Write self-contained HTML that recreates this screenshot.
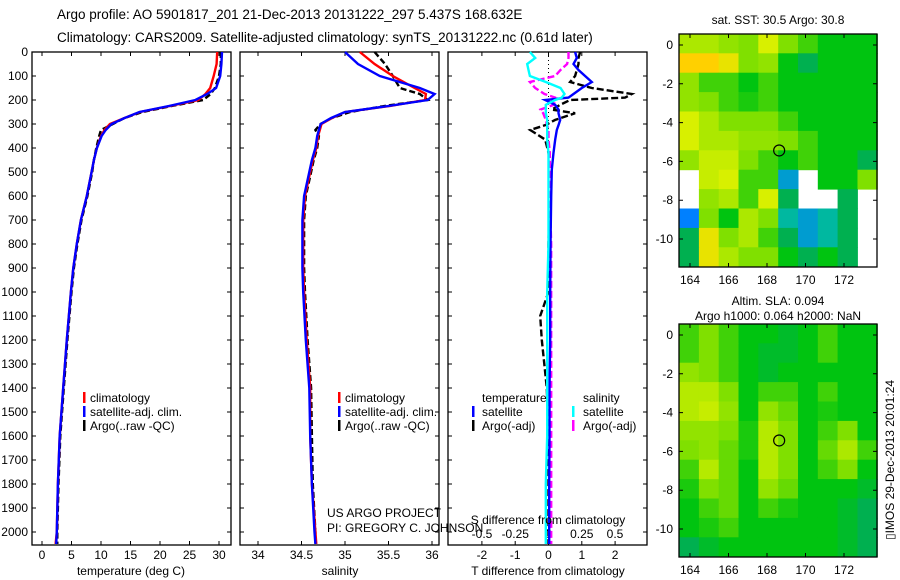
<!DOCTYPE html>
<html><head><meta charset="utf-8"><style>
body{margin:0;background:#fff;}
svg{display:block;font-family:"Liberation Sans",Arial,sans-serif;}
text{fill:#000;}
</style></head><body>
<svg id="c" width="900" height="580" viewBox="0 0 900 580" xmlns="http://www.w3.org/2000/svg">
<text x="57" y="19" font-size="13.5">Argo profile: AO 5901817_201 21-Dec-2013 20131222_297 5.437S 168.632E</text>
<text x="57" y="42" font-size="13.5">Climatology: CARS2009. Satellite-adjusted climatology: synTS_20131222.nc (0.61d later)</text>
</svg>
<script>
// ---------- data ----------
const depthTicks=[0,100,200,300,400,500,600,700,800,900,1000,1100,1200,1300,1400,1500,1600,1700,1800,1900,2000];
const depths=[0,50,100,150,175,200,225,250,275,300,325,350,400,450,500,600,700,800,900,1000,1200,1400,1600,1800,2000,2050];
const tempClim=[29.7,29.6,29.1,28.5,27.7,26.5,21.7,16.6,14,11.5,10.6,10,9.3,8.8,8.4,7.6,6.6,5.9,5.3,4.9,4.2,3.6,3.0,2.7,2.5,2.3];
const tempSat=[30.5,30.4,30.2,29.5,28,26,21.5,16.5,14,11.8,10.8,10.1,9.3,8.8,8.4,7.6,6.6,5.9,5.3,4.9,4.2,3.6,3.0,2.7,2.5,2.4];
const tempArgo=[30.3,30.3,30,29.3,28.6,27.3,22,17,14,12,10,9.7,9.2,8.8,8.5,7.7,6.7,6.0,5.4,5.0,4.3,3.7,3.1,2.8,2.6,2.6];
const salClim=[35.17,35.34,35.55,35.8,35.93,35.92,35.52,35.0,34.85,34.73,34.71,34.69,34.67,34.63,34.6,34.54,34.52,34.52,34.52,34.53,34.56,34.6,34.6,34.62,34.66,34.67];
const salSat=[35.0,35.15,35.4,35.86,36.03,35.95,35.5,35.0,34.84,34.72,34.7,34.68,34.66,34.62,34.59,34.53,34.51,34.51,34.51,34.52,34.55,34.59,34.6,34.62,34.65,34.66];
const salArgo=[35.34,35.46,35.55,35.63,35.86,35.95,35.45,35.06,34.85,34.72,34.66,34.7,34.68,34.64,34.61,34.55,34.53,34.53,34.53,34.54,34.57,34.61,34.62,34.63,34.66,34.66];
const dDepths=[0,25,50,75,100,125,150,175,190,200,220,240,255,283,305,325,365,420,490,600,800,1000,1100,1200,1400,1600,1800,2000,2050];
const tDiffSat=[0.8,0.85,0.75,0.9,1.1,1.3,1.0,0.75,0.6,-0.1,0.2,0.3,0.3,0.35,0.3,0.25,0.2,0.15,0.1,0.08,0.06,0.05,0.05,0.05,0.03,0.03,0.02,0.02,0.02];
const tDiffArgo=[0.95,0.9,0.9,0.85,0.8,0.65,1.3,2.5,2.3,0.65,0.35,0.1,0.8,0.2,-0.1,-0.55,-0.1,0,0.05,0.03,0,0,-0.25,-0.2,-0.05,0,0,0,0];
const sDiffSat=[-0.14,-0.1,-0.16,-0.15,-0.14,-0.02,0.09,0.12,0.1,0.05,-0.02,-0.02,-0.02,-0.01,-0.01,-0.01,-0.01,0,0,0,0,-0.01,-0.01,-0.01,-0.01,-0.01,-0.02,-0.02,-0.02];
const sDiffArgo=[0.15,0.15,0.14,0.09,0.05,-0.14,-0.1,-0.03,0.05,0.05,0.04,-0.06,-0.04,-0.02,-0.01,0,0,0.01,0.01,0.01,0.02,0.02,0.02,0.02,0.02,0.02,0.02,0.02,0.02];
const tempTicks=[0,5,10,15,20,25,30];
const salTicks=[34,34.5,35,35.5,36];
const tDiffTicks=[-2,-1,0,1,2];
const sDiffTicks=[-0.5,-0.25,0,0.25,0.5];
const lonTicks=[164,166,168,170,172];
const latTicks=[0,-2,-4,-6,-8,-10];
const sstGrid=[
[0.65,0.65,0.62,0.6,0.7,0.6,0.55,0.5,0.5,0.5],
[0.75,0.75,0.72,0.6,0.62,0.5,0.45,0.5,0.5,0.5],
[0.62,0.55,0.55,0.5,0.55,0.5,0.5,0.5,0.5,0.5],
[0.62,0.6,0.55,0.52,0.55,0.5,0.5,0.5,0.5,0.5],
[0.7,0.65,0.6,0.6,0.6,0.55,0.5,0.5,0.5,0.5],
[0.7,0.65,0.65,0.62,0.62,0.6,0.55,0.5,0.5,0.5],
[0.62,0.68,0.68,0.6,0.55,0.5,0.55,0.5,0.5,0.45],
[null,0.68,0.7,0.55,0.55,0.35,null,0.5,0.5,0.6],
[null,0.62,0.65,0.55,0.7,0.45,null,null,0.45,null],
[0.3,0.6,0.5,0.65,0.6,0.4,0.35,0.4,0.45,null],
[0.45,0.72,0.6,0.65,0.55,0.45,0.35,0.4,0.45,null],
[0.45,0.72,0.65,0.6,0.6,0.5,0.45,0.5,0.45,null]];
const slaGrid=[
[0.55,0.6,0.55,0.5,0.5,0.48,0.5,0.55,0.5,0.5],
[0.55,0.6,0.55,0.5,0.48,0.48,0.5,0.55,0.5,0.5],
[0.62,0.6,0.55,0.5,0.48,0.5,0.5,0.5,0.5,0.5],
[0.66,0.66,0.6,0.5,0.55,0.55,0.5,0.55,0.5,0.5],
[0.66,0.68,0.62,0.5,0.62,0.58,0.5,0.52,0.5,0.5],
[0.62,0.62,0.6,0.52,0.66,0.6,0.5,0.55,0.6,0.5],
[0.6,0.62,0.58,0.52,0.66,0.6,0.5,0.58,0.65,0.55],
[0.55,0.66,0.58,0.5,0.66,0.6,0.5,0.55,0.6,0.5],
[0.52,0.6,0.58,0.5,0.62,0.58,0.5,0.5,0.5,0.48],
[0.5,0.55,0.58,0.5,0.55,0.52,0.5,0.5,0.48,0.45],
[0.5,0.52,0.55,0.5,0.5,0.5,0.5,0.5,0.48,0.45],
[0.45,0.48,0.5,0.5,0.5,0.5,0.5,0.5,0.48,0.45]];
const argoLon=168.632, argoLat=-5.437;

// ---------- drawing ----------
const svg=document.getElementById('c');
const NS='http://www.w3.org/2000/svg';
function mk(tag,attrs,txt){const e=document.createElementNS(NS,tag);for(const k in attrs)e.setAttribute(k,attrs[k]);if(txt!==undefined)e.textContent=txt;svg.appendChild(e);return e;}
const Y0=52,YB=545,DS=0.24;
const yD=d=>Y0+d*DS;

function panel(x0,x1,name){
  const r=mk('rect',{x:x0,y:Y0,width:x1-x0,height:YB-Y0,fill:'none',stroke:'#000','stroke-width':1.3});
  
  
  depthTicks.forEach(d=>{
    const t=mk('path',{d:`M${x0},${yD(d)}h4M${x1},${yD(d)}h-4`,stroke:'#000','stroke-width':1});
    
    
  });
}
function xTicks(vals,fx,yLab,name,top){
  vals.forEach(v=>{
    const x=fx(v);
    const t=mk('path',{d:top?`M${x},${Y0}v4M${x},${YB}v-4`:`M${x},${YB}v-4`,stroke:'#000','stroke-width':1});
    
    
    const l=mk('text',{x:x,y:yLab,'font-size':12,'text-anchor':'middle'},String(v));
    
    
  });
}
function line(xs,ds,fx,color,name,dash){
  const pts=xs.map((v,i)=>`${fx(v).toFixed(1)},${yD(ds[i]).toFixed(1)}`).join(' ');
  const p=mk('polyline',{points:pts,fill:'none',stroke:color,'stroke-width':2.4});
  if(dash)p.setAttribute('stroke-dasharray',dash);
  
  
}
function txt(x,y,s,name,size,anchor){
  const t=mk('text',{x:x,y:y,'font-size':size||12,'text-anchor':anchor||'start'},s);
  
  
  return t;
}
function legMark(x,y,color,name){
  const r=mk('rect',{x:x,y:y-10,width:2.5,height:11,fill:color});
  
  
}

// depth labels
depthTicks.forEach(d=>txt(28,yD(d)+4,String(d),'depth-label',12,'end'));

// panel 1: temperature
const fT=t=>42+t*5.9;
panel(32,231,'temperature-panel');
xTicks(tempTicks,fT,559,'temperature-tick-label',true);
line(tempArgo,depths,fT,'#000','temp-argo-line','6,3');
line(tempClim,depths,fT,'#f00','temp-climatology-line');
line(tempSat,depths,fT,'#00f','temp-satellite-line');
txt(131,575,'temperature (deg C)','temperature-axis-title',12,'middle');
legMark(83,402,'#f00','legend-climatology-marker');txt(90,402,'climatology','legend-climatology');
legMark(83,416,'#00f','legend-satellite-marker');txt(90,416,'satellite-adj. clim.','legend-satellite');
legMark(83,430,'#000','legend-argo-marker');txt(90,430,'Argo(..raw -QC)','legend-argo');

// panel 2: salinity
const fS=s=>258+(s-34)*87;
panel(240,439,'salinity-panel');
xTicks(salTicks,fS,559,'salinity-tick-label',true);
line(salArgo,depths,fS,'#000','sal-argo-line','6,3');
line(salClim,depths,fS,'#f00','sal-climatology-line');
line(salSat,depths,fS,'#00f','sal-satellite-line');
txt(340,575,'salinity','salinity-axis-title',12,'middle');
legMark(338,402,'#f00','legend2-climatology-marker');txt(345,402,'climatology','legend2-climatology');
legMark(338,416,'#00f','legend2-satellite-marker');txt(345,416,'satellite-adj. clim.','legend2-satellite');
legMark(338,430,'#000','legend2-argo-marker');txt(345,430,'Argo(..raw -QC)','legend2-argo');
txt(327,517,'US ARGO PROJECT','project-label');
txt(327,532,'PI: GREGORY C. JOHNSON','pi-label');

// panel 3: differences
const fTD=v=>548.5+v*33.3;
const fSD=v=>548.5+v*133;
panel(448,647,'difference-panel');
const z=mk('line',{x1:fTD(0),y1:Y0,x2:fTD(0),y2:200,stroke:'#000','stroke-width':1,'stroke-dasharray':'1,3'});

xTicks(tDiffTicks,fTD,559,'tdiff-tick-label',true);
sDiffTicks.forEach(v=>txt(fSD(v),538,String(v),'sdiff-tick-label',12,'middle'));
line(tDiffArgo,dDepths,fTD,'#000','tdiff-argo-line','7,3');
line(sDiffArgo,dDepths,fSD,'#f0f','sdiff-argo-line','7,3');
line(tDiffSat,dDepths,fTD,'#00f','tdiff-satellite-line');
line(sDiffSat,dDepths,fSD,'#0ff','sdiff-satellite-line');
txt(548,524,'S difference from climatology','sdiff-axis-title',12,'middle');
txt(548,575,'T difference from climatology','tdiff-axis-title',12,'middle');
txt(482,402,'temperature','legend3-temperature-header');
txt(583,402,'salinity','legend3-salinity-header');
legMark(472,416,'#00f','legend3-tsat-marker');txt(482,416,'satellite','legend3-tsat');
legMark(472,430,'#000','legend3-targo-marker');txt(482,430,'Argo(-adj)','legend3-targo');
legMark(572,416,'#0ff','legend3-ssat-marker');txt(583,416,'satellite','legend3-ssat');
legMark(572,430,'#f0f','legend3-sargo-marker');txt(583,430,'Argo(-adj)','legend3-sargo');

// maps
const stops=[[0.2,[0,0,192]],[0.3,[0,128,255]],[0.4,[0,184,160]],[0.45,[0,176,80]],[0.5,[0,196,16]],[0.6,[128,224,0]],[0.7,[216,240,0]],[0.75,[255,208,0]],[0.8,[255,144,0]]];
function cmap(v){
  if(v<=stops[0][0])return `rgb(${stops[0][1]})`;
  for(let i=1;i<stops.length;i++){if(v<=stops[i][0]){const a=stops[i-1],b=stops[i],f=(v-a[0])/(b[0]-a[0]);return `rgb(${a[1].map((c,k)=>Math.round(c+(b[1][k]-c)*f))})`;}}
  return `rgb(${stops[stops.length-1][1]})`;
}
function drawMap(grid,top,bot,lat0y,name){
  const L=679,R=877,lonX=lo=>690+(lo-164)*19.25,latY=la=>lat0y-la*19.4;
  grid.forEach((row,ri)=>row.forEach((v,ci)=>{
    if(v===null)return;
    const lo0=163.43+ci*1.03, la0=0.57-ri*1.0;
    const x=lonX(lo0),y=Math.max(top,latY(la0));
    const w=1.03*19.25+0.5, h=Math.min(bot,latY(la0-1))-y+0.5;
    const c=mk('rect',{x:x.toFixed(1),y:y.toFixed(1),width:w.toFixed(1),height:h.toFixed(1),fill:cmap(v)});
    
    
  }));
  const b=mk('rect',{x:L,y:top,width:R-L,height:bot-top,fill:'none',stroke:'#000','stroke-width':1.3});
  
  lonTicks.forEach(lo=>{const x=lonX(lo);
    const t=mk('path',{d:`M${x},${top}v4M${x},${bot}v-4`,stroke:'#000'});
    txt(x,bot+17,String(lo),'lon-label',12,'middle');});
  latTicks.forEach(la=>{const y=latY(la);
    const t=mk('path',{d:`M${L},${y}h4M${R},${y}h-4`,stroke:'#000'});
    txt(673,y+4,String(la),'lat-label',12,'end');});
  const c=mk('circle',{cx:lonX(argoLon),cy:latY(argoLat),r:5.5,fill:'none',stroke:'#000','stroke-width':1.2});
  
}
drawMap(sstGrid,34,267,45,'sst-map');
drawMap(slaGrid,324,557,335,'sla-map');
txt(778,24,'sat. SST: 30.5 Argo: 30.8','sst-map-title',12,'middle');
txt(778,305,'Altim. SLA: 0.094','sla-map-title',12,'middle');
txt(778,320,'Argo h1000: 0.064 h2000: NaN','sla-map-subtitle',12,'middle');
const r=txt(0,0,'▯IMOS 29-Dec-2013 20:01:24','timestamp-label',12,'middle');
r.setAttribute('transform','translate(894,460) rotate(-90)');
</script>
</body></html>
